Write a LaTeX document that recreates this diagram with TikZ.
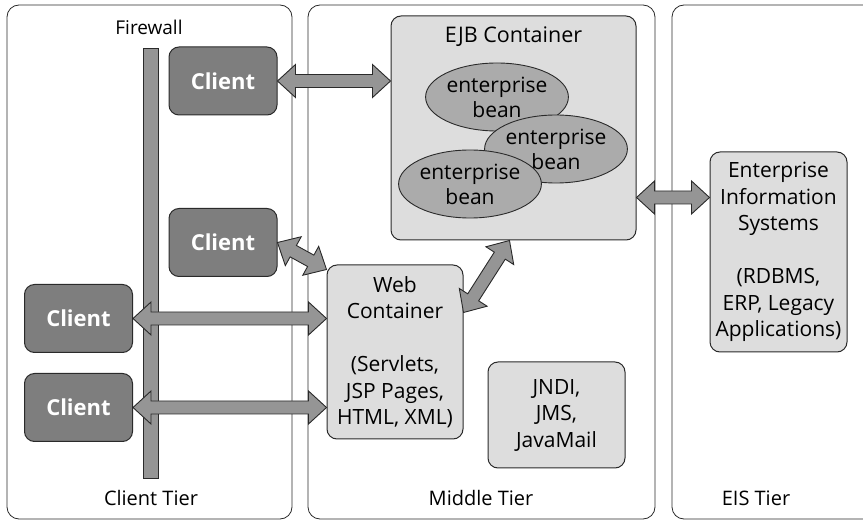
\documentclass[tikz,border=0pt]{standalone}
\usepackage{fontspec}
\setmainfont{Open Sans}
\usetikzlibrary{calc,shapes.geometric}
\definecolor{darkbox}{HTML}{7E7E7E}
\definecolor{arrowgray}{HTML}{959595}
\definecolor{lightbox}{HTML}{DDDDDD}
\definecolor{beangray}{HTML}{ABABAB}
\definecolor{edge}{HTML}{2A2A2A}
\newcommand{\fatarr}[2]{%
  \draw[bigarrow] (#1)
    -- ($(#1)!18pt!(#2)!16.5pt!90:(#2)$)
    -- ($(#1)!18pt!(#2)!6.5pt!90:(#2)$)
    -- ($(#2)!18pt!(#1)!6.5pt!-90:(#1)$)
    -- ($(#2)!18pt!(#1)!16.5pt!-90:(#1)$)
    -- (#2)
    -- ($(#2)!18pt!(#1)!16.5pt!90:(#1)$)
    -- ($(#2)!18pt!(#1)!6.5pt!90:(#1)$)
    -- ($(#1)!18pt!(#2)!6.5pt!-90:(#2)$)
    -- ($(#1)!18pt!(#2)!16.5pt!-90:(#2)$)
    -- cycle;}
\begin{document}
\begin{tikzpicture}[x=1pt,y=-1pt,
  panel/.style={draw=edge, line width=0.8pt, rounded corners=12pt},
  label/.style={font=\fontsize{20}{24}\selectfont, text=black},
  clientbox/.style={draw=edge, fill=darkbox, line width=1pt, rounded corners=10pt,
    minimum width=108pt, minimum height=68pt, inner sep=0pt, text=white,
    font=\fontsize{22}{26}\selectfont\bfseries},
  lightnode/.style={draw=edge, fill=lightbox, line width=1pt, rounded corners=10pt,
    inner sep=0pt, align=center, text=black, font=\fontsize{21}{26.5}\selectfont},
  bean/.style={ellipse, draw=edge, fill=beangray, line width=0.9pt, inner sep=0pt,
    minimum width=139pt, minimum height=68pt, align=center, text=black,
    font=\fontsize{21}{25}\selectfont},
  wall/.style={draw=edge, fill=arrowgray, line width=0.8pt},
  bigarrow/.style={draw=edge, fill=arrowgray, line width=0.9pt, line join=miter}]
\useasboundingbox (0,0) rectangle (863,521);
% tiers
\draw[panel] (7,5) rectangle (292,519);
\draw[panel] (308,5) rectangle (655,519);
\draw[panel] (672,5) rectangle (890,519);
\node[label] (ct) at (151,498) {Client Tier};
\node[label] (mt) at (481,498) {Middle Tier};
\node[label] (et) at (756,498) {EIS Tier};
% firewall
\node[label, font=\fontsize{19}{23}\selectfont] (fwl) at (149,27) {Firewall};
\draw[wall] (143,48) rectangle (158,478);
% clients
\node[clientbox] (c1) at (223,81) {Client};
\node[clientbox] (c2) at (223,242.5) {Client};
\node[clientbox] (c3) at (78.5,318.5) {Client};
\node[clientbox] (c4) at (78.5,407.5) {Client};
% EJB container
\node[lightnode, minimum width=245pt, minimum height=224pt] (ejb) at (513.5,128) {};
\node[font=\fontsize{21.5}{26}\selectfont, text=black] (ejbt) at (513.5,37) {EJB Container};
\node[bean] (e1) at (497,97) {enterprise\\bean};
\node[bean] (e2) at (556,149) {enterprise\\bean};
\node[bean] (e3) at (470,184) {enterprise\\bean};
% web container
\node[lightnode, minimum width=136pt, minimum height=174pt] (web) at (395,352)
  {Web\\Container\\[26.5pt](Servlets,\\JSP Pages,\\HTML, XML)};
% JNDI
\node[lightnode, minimum width=137pt, minimum height=106pt] (jndi) at (556.5,415)
  {JNDI,\\JMS,\\JavaMail};
% EIS
\node[lightnode, minimum width=137pt, minimum height=200pt] (eis) at (778.5,252)
  {Enterprise\\Information\\Systems\\[26.5pt](RDBMS,\\ERP, Legacy\\Applications)};
% connector end points
\coordinate (a1e) at (c1.east -| ejb.west);
\coordinate (a2e) at ([yshift=-5pt]web.north west);
\coordinate (a3e) at (c3.east -| web.west);
\coordinate (a4e) at (c4.east -| web.west);
\coordinate (a5s) at ([yshift=-48pt]web.north east);
\coordinate (a5e) at ([xshift=-4pt]ejb.south);
\coordinate (a6s) at ([yshift=43pt]ejb.south east);
\coordinate (a6e) at (a6s -| eis.west);
% arrows
\fatarr{c1.east}{a1e}
\fatarr{c2.east}{a2e}
\fatarr{c3.east}{a3e}
\fatarr{c4.east}{a4e}
\fatarr{a5s}{a5e}
\fatarr{a6s}{a6e}
\end{tikzpicture}
\end{document}
